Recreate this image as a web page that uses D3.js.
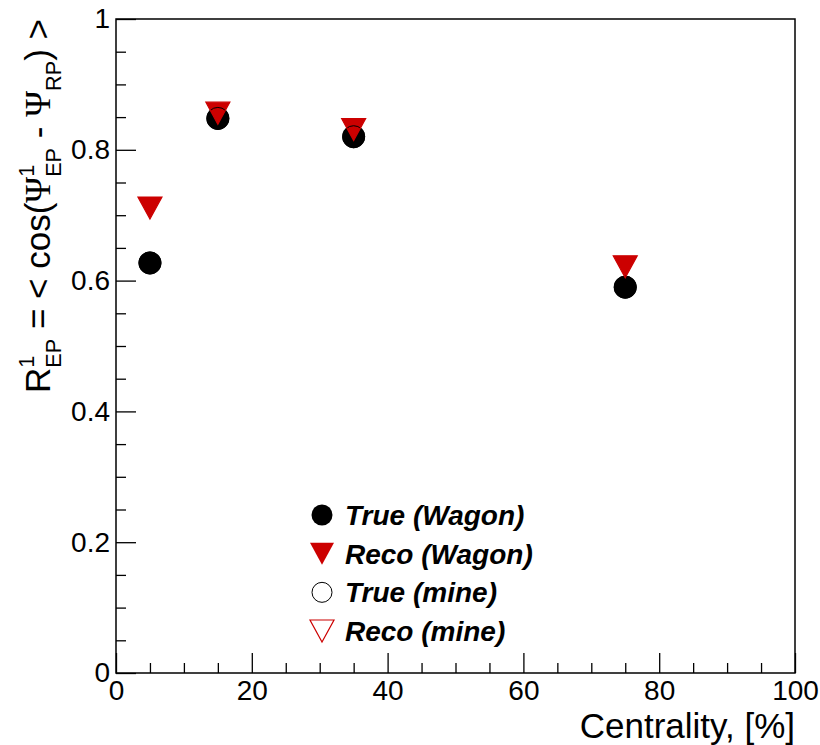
<!DOCTYPE html>
<html>
<head>
<meta charset="utf-8">
<script src="https://cdn.jsdelivr.net/npm/d3@7"></script>
<style>
  html, body { margin: 0; padding: 0; background: #fff; }
  svg { display: block; }
</style>
</head>
<body>
<script>
// ---- data ----
const centrality = [5, 15, 35, 75];
const trueWagon = [0.627, 0.848, 0.820, 0.590];
const recoWagon = [0.711, 0.856, 0.831, 0.621];
const trueMine  = [0.627, 0.848, 0.820, 0.590];
const recoMine  = [0.711, 0.856, 0.831, 0.621];
const xTicks = [0, 20, 40, 60, 80, 100];
const xTickLabels = ["0", "20", "40", "60", "80", "100"];
const yTicks = [0, 0.2, 0.4, 0.6, 0.8, 1];
const yTickLabels = ["0", "0.2", "0.4", "0.6", "0.8", "1"];
const legendLabels = ["True (Wagon)", "Reco (Wagon)", "True (mine)", "Reco (mine)"];
const xTitle = "Centrality, [%]";

// ---- layout ----
const W = 820, H = 745;
const L = 116, R = 795, T = 19, B = 673;
const RED = "#cc0000";
const FONT = "'Liberation Sans', Arial, Helvetica, sans-serif";

const svg = d3.select("body").append("svg").attr("width", W).attr("height", H);
svg.append("rect").attr("width", W).attr("height", H).attr("fill", "#fff");

const x = d3.scaleLinear().domain([0, 100]).range([L, R]);
const y = d3.scaleLinear().domain([0, 1]).range([B, T]);

// minor ticks
const xMinor = d3.range(0, 101, 5).filter(v => v % 20 !== 0);
const yMinor = d3.range(0, 21, 1).map(v => v / 20).filter((v, i) => i % 4 !== 0);

const xAxisMinor = d3.axisBottom(x).tickValues(xMinor).tickSize(-10).tickFormat("");
const yAxisMinor = d3.axisLeft(y).tickValues(yMinor).tickSize(-10).tickFormat("");
const xAxis = d3.axisBottom(x).tickValues(xTicks).tickSize(-20).tickPadding(7)
  .tickFormat((d, i) => xTickLabels[i]);
const yAxis = d3.axisLeft(y).tickValues(yTicks).tickSize(-20).tickPadding(6)
  .tickFormat((d, i) => yTickLabels[i]);

function styleAxis(g) {
  g.select(".domain").remove();
  g.selectAll("line").attr("stroke", "#000").attr("stroke-width", 1.3);
  g.selectAll("text").attr("font-family", FONT).attr("font-size", 28).attr("fill", "#000");
}
svg.append("g").attr("transform", `translate(0,${B})`).call(xAxisMinor).call(styleAxis);
svg.append("g").attr("transform", `translate(${L},0)`).call(yAxisMinor).call(styleAxis);
svg.append("g").attr("transform", `translate(0,${B})`).call(xAxis).call(styleAxis);
svg.append("g").attr("transform", `translate(${L},0)`).call(yAxis).call(styleAxis);

// frame
svg.append("rect").attr("x", L).attr("y", T).attr("width", R - L).attr("height", B - T)
  .attr("fill", "none").attr("stroke", "#000").attr("stroke-width", 1.5);

// markers
const CR = 11.5;          // circle radius
const TW = 24, TH = 22;   // triangle width/height
function triPath(cx, cy) {
  return `M${cx - TW / 2},${cy - TH / 2}L${cx + TW / 2},${cy - TH / 2}L${cx},${cy + TH / 2}Z`;
}

const pts = centrality.map((c, i) => ({ c, tw: trueWagon[i], rw: recoWagon[i], tm: trueMine[i], rm: recoMine[i] }));

svg.append("g").selectAll("circle").data(pts).join("circle")
  .attr("cx", d => x(d.c)).attr("cy", d => y(d.tw)).attr("r", CR).attr("fill", "#000");
svg.append("g").selectAll("path").data(pts).join("path")
  .attr("d", d => triPath(x(d.c), y(d.rw))).attr("fill", RED);
svg.append("g").selectAll("circle").data(pts).join("circle")
  .attr("cx", d => x(d.c)).attr("cy", d => y(d.tm)).attr("r", CR - 0.5)
  .attr("fill", "none").attr("stroke", "#000").attr("stroke-width", 1);
svg.append("g").selectAll("path").data(pts).join("path")
  .attr("d", d => triPath(x(d.c), y(d.rm))).attr("fill", "none").attr("stroke", RED).attr("stroke-width", 1.2);

// x title
svg.append("text").attr("x", R).attr("y", 737.5).attr("text-anchor", "end")
  .attr("font-family", FONT).attr("font-size", 35).attr("fill", "#000").text(xTitle);

// y title (rotated, with stacked super/subscripts)
(function () {
  const f = 35, s = 0.62 * f;
  const SERIF = "'Liberation Serif', 'DejaVu Serif', serif";
  const pieces = [
    { t: "R", size: f, dy: 0, font: FONT },
    { t: "1", size: s, dy: -0.45 * f, font: FONT, stack: true },
    { t: "EP", size: s, dy: 0.3 * f, font: FONT },
    { t: " = < cos(", size: f, dy: 0, font: FONT },
    { t: "\u03A8", size: f, dy: 0, font: SERIF },
    { t: "1", size: s, dy: -0.45 * f, font: FONT, stack: true },
    { t: "EP", size: s, dy: 0.3 * f, font: FONT },
    { t: " - ", size: f, dy: 0, font: FONT },
    { t: "\u03A8", size: f, dy: 0, font: SERIF },
    { t: "RP", size: s, dy: 0.3 * f, font: FONT },
    { t: ") >", size: f, dy: 0, font: FONT }
  ];
  const tmp = svg.append("text").attr("x", -1000).attr("y", -1000).style("white-space", "pre");
  pieces.forEach(p => {
    tmp.attr("font-family", p.font).attr("font-size", p.size).text(p.t.replace(/ /g, "\u00A0"));
    p.w = tmp.node().getComputedTextLength();
  });
  tmp.remove();
  let pos = 0;
  for (let i = 0; i < pieces.length; i++) {
    const p = pieces[i];
    p.x = pos;
    if (p.stack) {
      const nxt = pieces[i + 1];
      nxt.x = pos;
      pos += Math.max(p.w, nxt.w);
      i++;
    } else {
      pos += p.w;
    }
  }
  const total = pos;
  const g = svg.append("g").attr("transform", `translate(50,${19 + total}) rotate(-90)`);
  pieces.forEach(p => {
    g.append("text").attr("x", p.x).attr("y", p.dy)
      .attr("font-family", p.font).attr("font-size", p.size).attr("fill", "#000")
      .text(p.t.replace(/ /g, "\u00A0"));
  });
})();

// legend
const ly = d3.scalePoint().domain(legendLabels).range([515, 631]);
const lx = 322;
const lg = svg.append("g");
legendLabels.forEach((lab, i) => {
  const cy = ly(lab);
  if (i === 0) lg.append("circle").attr("cx", lx).attr("cy", cy).attr("r", CR - 1).attr("fill", "#000");
  if (i === 1) lg.append("path").attr("d", triPath(lx, cy)).attr("fill", RED);
  if (i === 2) lg.append("circle").attr("cx", lx).attr("cy", cy).attr("r", CR - 1.5)
    .attr("fill", "none").attr("stroke", "#000").attr("stroke-width", 1);
  if (i === 3) lg.append("path").attr("d", triPath(lx, cy)).attr("fill", "none")
    .attr("stroke", RED).attr("stroke-width", 1.2);
  lg.append("text").attr("x", 345).attr("y", cy + 10)
    .attr("font-family", FONT).attr("font-size", 28).attr("font-weight", "bold")
    .attr("font-style", "italic").attr("fill", "#000").text(lab);
});
</script>
</body>
</html>
